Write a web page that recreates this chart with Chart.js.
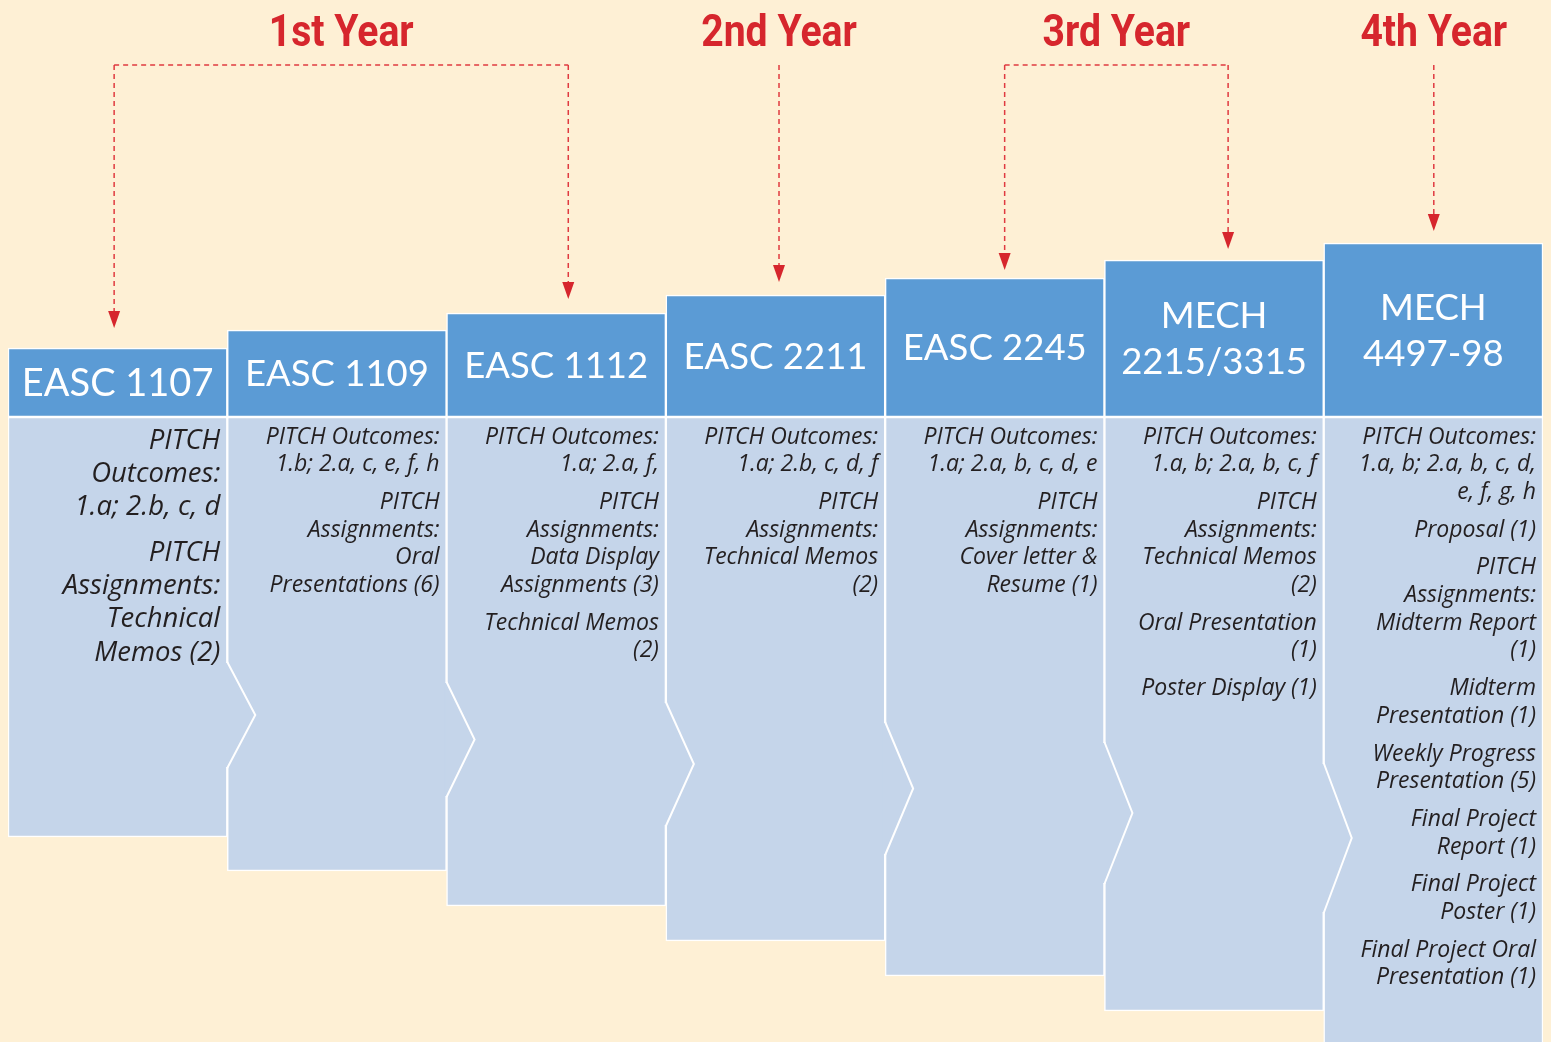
<!DOCTYPE html>
<html>
<head>
<meta charset="utf-8">
<script src="https://cdn.jsdelivr.net/npm/chart.js@4.4.1/dist/chart.umd.min.js"></script>
<style>
  html, body { margin: 0; padding: 0; background: #FEF0D5; }
  #wrap { width: 1551px; height: 1042px; position: relative; }
</style>
</head>
<body>
<div id="wrap"><canvas id="c"></canvas></div>
<script>
// ---------------- DATA ----------------
const courses = ['EASC 1107', 'EASC 1109', 'EASC 1112', 'EASC 2211', 'EASC 2245', 'MECH 2215/3315', 'MECH 4497-98'];
const headerLines = [['EASC 1107'], ['EASC 1109'], ['EASC 1112'], ['EASC 2211'], ['EASC 2245'], ['MECH', '2215/3315'], ['MECH', '4497-98']];
// vertical levels (top of page = 0, bottom = 1042)
const headerTop = [348, 330, 313, 295, 278, 260, 243];
const headerBottom = [417, 417, 417, 417, 417, 417, 417];
const bodyBottom = [837, 871, 906, 941, 976, 1011, 1070];
const chevronStart = [663, 683, 703, 723, 743, 764];
const chevronEnd = [767, 796, 825, 854, 883, 912];

const years = ['1st Year', '2nd Year', '3rd Year', '4th Year'];
const yearCourses = [[0, 2], [3], [4, 5], [6]];
const arrowTip = [328, null, 299, 282, 270, 249, 231];

const bodyText = [
  [['PITCH', 'Outcomes:', '1.a; 2.b, c, d'], ['PITCH', 'Assignments:', 'Technical', 'Memos (2)']],
  [['PITCH Outcomes:', '1.b; 2.a, c, e, f, h'], ['PITCH', 'Assignments:', 'Oral', 'Presentations (6)']],
  [['PITCH Outcomes:', '1.a; 2.a, f,'], ['PITCH', 'Assignments:', 'Data Display', 'Assignments (3)'], ['Technical Memos', '(2)']],
  [['PITCH Outcomes:', '1.a; 2.b, c, d, f'], ['PITCH', 'Assignments:', 'Technical Memos', '(2)']],
  [['PITCH Outcomes:', '1.a; 2.a, b, c, d, e'], ['PITCH', 'Assignments:', 'Cover letter &', 'Resume (1)']],
  [['PITCH Outcomes:', '1.a, b; 2.a, b, c, f'], ['PITCH', 'Assignments:', 'Technical Memos', '(2)'], ['Oral Presentation', '(1)'], ['Poster Display (1)']],
  [['PITCH Outcomes:', '1.a, b; 2.a, b, c, d,', 'e, f, g, h'], ['Proposal (1)'], ['PITCH', 'Assignments:', 'Midterm Report', '(1)'],
   ['Midterm', 'Presentation (1)'], ['Weekly Progress', 'Presentation (5)'], ['Final Project', 'Report (1)'],
   ['Final Project', 'Poster (1)'], ['Final Project Oral', 'Presentation (1)']]
];

// ---------------- STYLE ----------------
const C = {
  bg: '#FEF0D5', head: '#5B9BD5', body: '#C5D5EA', line: '#FFFFFF',
  text: '#231F20', red: '#D6262D', dash: '#E03A40'
};
const arrowNudge = [-0.016, 0, 0.055, 0.016, 0.045, 0.064, 0.002];

const bgPlugin = {
  id: 'bg',
  beforeDraw(chart) {
    const ctx = chart.ctx;
    ctx.save();
    ctx.fillStyle = C.bg;
    ctx.fillRect(0, 0, chart.width, chart.height);
    ctx.restore();
  }
};

const decoPlugin = {
  id: 'deco',
  afterDatasetsDraw(chart) {
    const ctx = chart.ctx;
    const y = chart.scales.y, x = chart.scales.x;
    const heads = chart.getDatasetMeta(0).data;
    const bodies = chart.getDatasetMeta(1).data;

    // chevrons
    chevronStart.forEach((s, i) => {
      const el = bodies[i];
      const right = el.x + el.width / 2;
      const y1 = y.getPixelForValue(s), y2 = y.getPixelForValue(chevronEnd[i]);
      const ym = (y1 + y2) / 2, tip = right + 28;
      ctx.save();
      ctx.fillStyle = C.body;
      ctx.fillRect(right - 2.5, y1, 5, y2 - y1);
      ctx.beginPath();
      ctx.moveTo(right - 1, y1);
      ctx.lineTo(tip, ym);
      ctx.lineTo(right - 1, y2);
      ctx.closePath();
      ctx.fill();
      ctx.strokeStyle = C.line;
      ctx.lineWidth = 2;
      ctx.beginPath();
      ctx.moveTo(right, y1 - 1);
      ctx.lineTo(tip, ym);
      ctx.lineTo(right, y2 + 1);
      ctx.stroke();
      ctx.restore();
    });

    // header labels
    headerLines.forEach((lines, i) => {
      const el = heads[i];
      const top = y.getPixelForValue(headerTop[i]), bot = y.getPixelForValue(headerBottom[i]);
      const cy = (top + bot) / 2;
      const size = i === 0 ? 38 : 36.5;
      const lh = 46;
      ctx.save();
      ctx.fillStyle = '#FFFFFF';
      ctx.font = `${size}px Lato, "Open Sans", sans-serif`;
      ctx.textAlign = 'center';
      ctx.textBaseline = 'middle';
      lines.forEach((t, k) => {
        ctx.fillText(t, el.x, cy + (k - (lines.length - 1) / 2) * lh + 1);
      });
      ctx.restore();
    });

    // body text
    bodyText.forEach((paras, i) => {
      const el = bodies[i];
      const right = el.x + el.width / 2 - 7;
      const big = i === 0;
      const size = big ? 27.5 : 23;
      const lh = big ? 33.3 : 27.7;
      const gap = big ? 12 : 10;
      let cy = y.getPixelForValue(headerBottom[i]) + (big ? 24 : 20);
      ctx.save();
      ctx.fillStyle = C.text;
      ctx.font = `italic ${size}px "Open Sans", Lato, sans-serif`;
      ctx.textAlign = 'right';
      ctx.textBaseline = 'middle';
      paras.forEach(p => {
        p.forEach(t => { ctx.fillText(t, right, cy); cy += lh; });
        cy += gap;
      });
      ctx.restore();
    });

    // year labels + dashed arrows
    const ax = i => x.getPixelForValue(i) + arrowNudge[i] * heads[i].width;
    const barY = 65;
    years.forEach((label, g) => {
      const cols = yearCourses[g];
      const xs = cols.map(ax);
      const cx = xs.reduce((a, b) => a + b, 0) / xs.length;
      ctx.save();
      ctx.fillStyle = C.red;
      ctx.font = 'bold 45px Roboto, "Liberation Sans", sans-serif';
      ctx.textAlign = 'center';
      ctx.textBaseline = 'alphabetic';
      ctx.translate(cx, 46);
      ctx.scale(0.87, 1);
      ctx.fillText(label, 0, 0);
      ctx.restore();

      ctx.save();
      ctx.strokeStyle = C.dash;
      ctx.lineWidth = 1.5;
      ctx.setLineDash([5, 4]);
      ctx.beginPath();
      if (xs.length > 1) {
        ctx.moveTo(xs[0], barY);
        ctx.lineTo(xs[xs.length - 1], barY);
      }
      cols.forEach((c, k) => {
        const tipY = y.getPixelForValue(arrowTip[c]);
        ctx.moveTo(xs[k], barY);
        ctx.lineTo(xs[k], tipY - 17);
      });
      ctx.stroke();
      ctx.setLineDash([]);
      ctx.fillStyle = C.red;
      cols.forEach((c, k) => {
        const tipY = y.getPixelForValue(arrowTip[c]);
        ctx.beginPath();
        ctx.moveTo(xs[k] - 6, tipY - 17);
        ctx.lineTo(xs[k] + 6, tipY - 17);
        ctx.lineTo(xs[k], tipY);
        ctx.closePath();
        ctx.fill();
      });
      ctx.restore();
    });
  }
};

const barCommon = {
  borderColor: C.line, borderWidth: 1.5, borderSkipped: false,
  grouped: false, barPercentage: 1, categoryPercentage: 1
};

new Chart(document.getElementById('c'), {
  type: 'bar',
  data: {
    labels: courses,
    datasets: [
      Object.assign({ label: 'Course', data: courses.map((_, i) => [headerTop[i], headerBottom[i]]), backgroundColor: C.head }, barCommon),
      Object.assign({ label: 'Content', data: courses.map((_, i) => [headerBottom[i], bodyBottom[i]]), backgroundColor: C.body }, barCommon)
    ]
  },
  options: {
    responsive: true,
    maintainAspectRatio: false,
    animation: false,
    layout: { padding: { left: 8, right: 8, top: 0, bottom: 0 } },
    plugins: { legend: { display: false }, tooltip: { enabled: false } },
    scales: {
      x: { display: false },
      y: { display: false, reverse: true, min: 0, max: 1042 }
    }
  },
  plugins: [bgPlugin, decoPlugin]
});
</script>
</body>
</html>
